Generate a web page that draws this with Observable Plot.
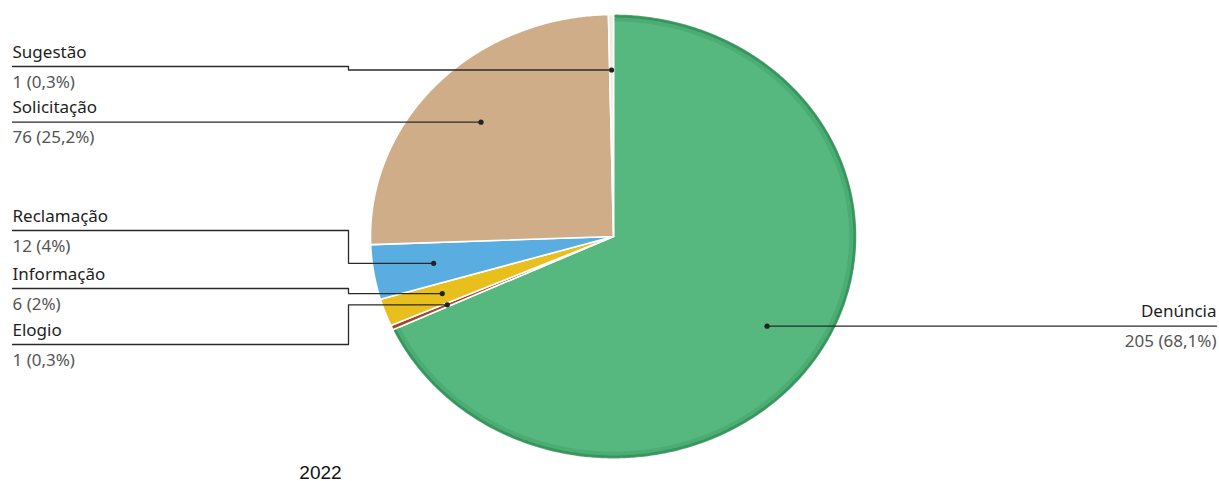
<!DOCTYPE html>
<html><head><meta charset="utf-8">
<script src="https://cdn.jsdelivr.net/npm/d3@7"></script>
<script src="https://cdn.jsdelivr.net/npm/@observablehq/plot@0.6"></script>
<style>body{margin:0;background:#fff;overflow:hidden}</style>
</head><body><div id="chart"></div>
<script>
// ---- data ----
const categories = ["Denúncia", "Elogio", "Informação", "Reclamação", "Solicitação", "Sugestão"];
const counts = [205, 1, 6, 12, 76, 1];
const percentLabels = ["68,1%", "0,3%", "2%", "4%", "25,2%", "0,3%"];
const sliceColors = ["#56b87e", "#a5462e", "#e9bf1e", "#5aade0", "#d0ad89", "#f1ebe6"];
const yearLabel = "2022";

// ---- layout ----
const W = 1219, H = 481;
const cx = 613, cy = 236, rx = 243, ry = 222, dotFrac = 0.75;
const leftX = 12, elbowX = 348, rightX = 1216;
// y of the horizontal label rule (null = same as the anchor dot)
const labelRuleY = {"Sugestão": 66, "Solicitação": null, "Reclamação": 230, "Informação": 288, "Elogio": 344, "Denúncia": null};
const labelSide = {"Denúncia": "right"};

const total = d3.sum(counts);
const pt = (a, f = 1) => [cx + rx * f * Math.sin(a), cy - ry * f * Math.cos(a)];

let cum = 0;
const slices = categories.map((c, i) => {
  const a0 = cum / total * 2 * Math.PI;
  cum += counts[i];
  const a1 = cum / total * 2 * Math.PI;
  return {cat: c, i, a0, a1, mid: (a0 + a1) / 2};
});

function arcPts(a0, a1, f = 1) {
  const n = Math.max(2, Math.ceil((a1 - a0) / (Math.PI / 360)));
  const out = [];
  for (let k = 0; k <= n; k++) out.push(pt(a0 + (a1 - a0) * k / n, f));
  return out;
}

const marks = [];
for (const s of slices) {
  const poly = [[cx, cy], ...arcPts(s.a0, s.a1), [cx, cy]];
  marks.push(Plot.line(poly, {x: d => d[0], y: d => d[1], fill: sliceColors[s.i], stroke: "#fff", strokeWidth: 1.6, strokeLinejoin: "round", curve: "linear"}));
}
// darker rim on the big green slice
const g = slices[0];
marks.push(Plot.line(arcPts(g.a0 + 0.01, g.a1 - 0.01, 0.993), {x: d => d[0], y: d => d[1], stroke: "#2b8a52", strokeWidth: 3, strokeOpacity: 0.75}));
marks.push(Plot.line(arcPts(g.a0 + 0.01, g.a1 - 0.01, 0.978), {x: d => d[0], y: d => d[1], stroke: "#2b8a52", strokeWidth: 4, strokeOpacity: 0.25}));

// labels
const labels = slices.map(s => {
  const [dx, dy] = pt(s.mid, dotFrac);
  const side = labelSide[s.cat] || "left";
  const ry0 = labelRuleY[s.cat] == null ? dy : labelRuleY[s.cat];
  const path = side === "left"
    ? (Math.abs(ry0 - dy) < 0.5 ? [[leftX, ry0], [dx, dy]] : [[leftX, ry0], [elbowX, ry0], [elbowX, dy], [dx, dy]])
    : [[dx, dy], [rightX, dy]];
  return {cat: s.cat, value: `${counts[s.i]} (${percentLabels[s.i]})`, dx, dy, ruleY: ry0, side, path,
          tx: side === "left" ? leftX : rightX};
});
for (const L of labels) {
  marks.push(Plot.line(L.path, {x: d => d[0], y: d => d[1], stroke: "#2a2a2a", strokeWidth: 1.3}));
}
marks.push(Plot.dot(labels, {x: "dx", y: "dy", r: 2.6, fill: "#222", stroke: null}));
const font = "'Noto Sans', 'Open Sans', sans-serif";
for (const side of ["left", "right"]) {
  const sub = labels.filter(d => d.side === side);
  const anchor = side === "left" ? "start" : "end";
  marks.push(Plot.text(sub, {x: "tx", y: d => d.ruleY - 9, text: "cat", textAnchor: anchor,
    lineAnchor: "bottom", fontSize: 17, fill: "#1e1e1e", fontFamily: font}));
  marks.push(Plot.text(sub, {x: "tx", y: d => d.ruleY + 21, text: "value", textAnchor: anchor,
    lineAnchor: "bottom", fontSize: 17, fill: "#555", fontFamily: font}));
}
marks.push(Plot.text([yearLabel], {x: () => 320, y: () => 478, text: d => d, lineAnchor: "bottom", fontSize: 19,
  fill: "#111", fontFamily: "'Liberation Sans', Arial, sans-serif"}));

const chart = Plot.plot({
  width: W, height: H, margin: 0,
  x: {domain: [0, W], range: [0, W], axis: null},
  y: {domain: [0, H], range: [0, H], axis: null},
  style: {background: "#fff"},
  marks
});
document.getElementById("chart").append(chart);
</script>
</body></html>
